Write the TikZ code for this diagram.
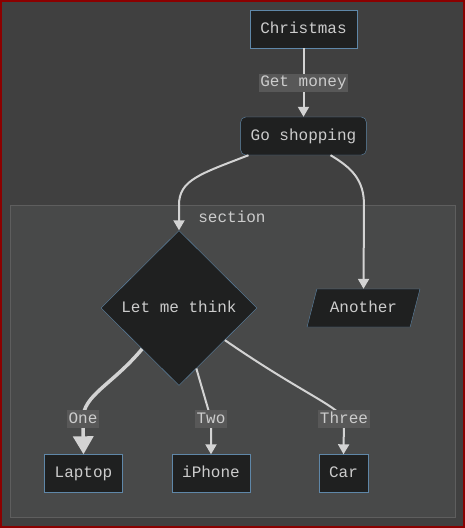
\documentclass[tikz,border=0pt]{standalone}
\usepackage{fontspec}
\setmonofont{Liberation Mono}
\usetikzlibrary{shapes.geometric, arrows.meta}
\definecolor{pagebg}{HTML}{404040}
\definecolor{framered}{HTML}{8B0000}
\definecolor{clusterbg}{HTML}{484949}
\definecolor{clusterline}{HTML}{5E5E5E}
\definecolor{nodebg}{HTML}{1F2020}
\definecolor{nodeline}{HTML}{5F87A8}
\definecolor{inkgrey}{HTML}{CCCCCC}
\definecolor{linegrey}{HTML}{D3D3D3}
\definecolor{labelbg}{HTML}{585858}
\newcommand{\chartfont}{\ttfamily\fontsize{16}{18}\selectfont}
\tikzstyle{process} = [rectangle, minimum height=38pt, inner xsep=10pt, text height=11pt, text depth=3pt, text centered, draw=nodeline, fill=nodebg, text=inkgrey, font=\chartfont]
\tikzstyle{startstop} = [process, rounded corners=5pt]
\tikzstyle{decision} = [process, diamond, aspect=1, minimum width=156pt, minimum height=155pt, inner sep=0pt]
\tikzstyle{io} = [process, trapezium, trapezium left angle=66, trapezium right angle=114, trapezium stretches=true, minimum width=113pt]
\tikzstyle{cluster} = [rectangle, draw=clusterline, fill=clusterbg, line width=1pt]
\tikzstyle{edgelabel} = [fill=labelbg, text=inkgrey, inner xsep=1.5pt, inner ysep=2pt, text height=11pt, text depth=3pt, font=\chartfont]
\tikzstyle{arrow} = [line width=2pt, draw=linegrey, -{Triangle[length=10pt,width=11pt]}]
\tikzstyle{fatarrow} = [line width=3.5pt, draw=linegrey, -{Triangle[length=18pt,width=20pt]}]

\begin{document}
\begin{tikzpicture}[x=1pt, y=-1pt]
      \useasboundingbox (0,0) rectangle (465,528);
      \draw [fill=pagebg, draw=framered, line width=2pt] (1,1) rectangle (464,527);

      \node (section)  [cluster, minimum width=445pt, minimum height=312pt] at (232.5,361) {};
      \node (sectname) [text=inkgrey, font=\chartfont] at (232,217) {section};

      \node (xmas)     [process,   minimum width=107pt]  at (303.5,29)  {Christmas};
      \node (shop)     [startstop, minimum width=125pt]  at (303.5,136) {Go shopping};
      \node (think)    [decision]                        at (179,308)   {Let me think};
      \node (another)  [io]                              at (363.5,308) {Another};
      \node (laptop)   [process,   minimum width=77pt]   at (83.5,473.5)  {Laptop};
      \node (iphone)   [process,   minimum width=78pt]   at (211,473.5)   {iPhone};
      \node (car)      [process,   minimum width=49pt]   at (343.5,473.5) {Car};

      \draw [arrow] (xmas) -- node[edgelabel] {Get money} (shop);
      \draw [arrow] ([xshift=8pt]shop.south west) .. controls (200,174) and (179,180) .. (179,205) -- (think.north);
      \draw [arrow] ([xshift=-36pt]shop.south east) .. controls (352,168) and (364,180) .. (364,205) -- (another.north);

      \draw [fatarrow] (think.228) .. controls (112,385) and (83,395) .. (83,419) node[edgelabel] {One} -- (laptop.north);
      \draw [arrow] (think.-74) -- (211,419) node[edgelabel] {Two} -- (iphone.north);
      \draw [arrow] (think.-35) .. controls (300,392) and (336,405) .. (344,419) node[edgelabel] {Three} -- (car.north);
    \end{tikzpicture}
\end{document}
